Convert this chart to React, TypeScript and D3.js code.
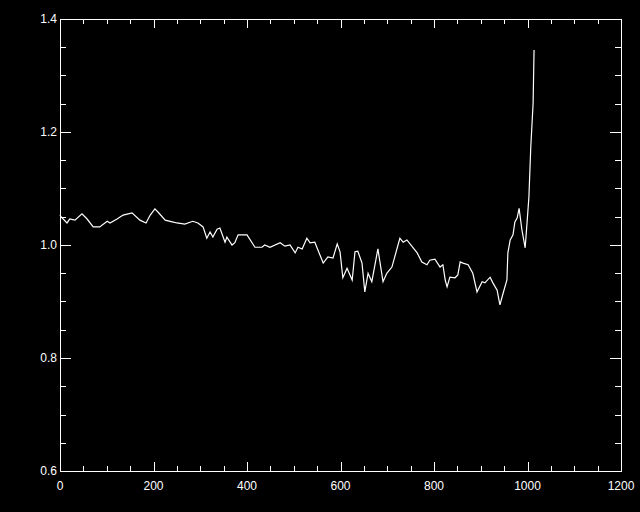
import React, { useEffect, useRef } from "react";
import * as d3 from "d3";

// values
const xValues = [
  0, 2, 15, 21, 32, 47, 58, 71, 85, 101, 107, 122, 135, 154, 171, 184, 193, 203,
  210, 225, 240, 250, 267, 284, 295, 306, 314, 321, 327, 336, 342, 353, 357, 368, 374, 381, 400, 417,
  432, 438, 449, 471, 481, 492, 503, 509, 518, 528, 535, 545, 563, 573, 584, 593, 599, 605, 614, 625,
  631, 637, 646, 652, 659, 667, 680, 691, 699, 710, 727, 734, 742, 764, 774, 785, 791, 802, 813, 819,
  824, 828, 834, 845, 851, 856, 862, 873, 883, 892, 903, 909, 920, 926, 935, 941, 948, 956, 958, 963,
  969, 973, 978, 982, 988, 995, 999, 1003, 1007, 1012, 1014,
];
const yValues = [
  1.053, 1.05, 1.039, 1.046, 1.044, 1.055, 1.046, 1.032, 1.032, 1.042, 1.039, 1.046, 1.053, 1.057, 1.044, 1.039, 1.053, 1.064,
  1.058, 1.044, 1.041, 1.039, 1.037, 1.042, 1.039, 1.032, 1.012, 1.023, 1.014, 1.028, 1.03, 1.005, 1.014, 1.0, 1.004, 1.018, 1.018, 0.996,
  0.996, 1.0, 0.996, 1.004, 0.998, 1.0, 0.986, 0.996, 0.993, 1.012, 1.004, 1.005, 0.968, 0.979, 0.977, 1.002, 0.988, 0.942, 0.959, 0.938,
  0.988, 0.989, 0.968, 0.917, 0.95, 0.935, 0.993, 0.935, 0.95, 0.961, 1.012, 1.005, 1.009, 0.986, 0.97, 0.965, 0.973, 0.975, 0.961, 0.965,
  0.938, 0.926, 0.943, 0.942, 0.947, 0.97, 0.968, 0.965, 0.95, 0.917, 0.935, 0.933, 0.943, 0.933, 0.92, 0.894, 0.915, 0.938, 0.986, 1.009,
  1.018, 1.041, 1.048, 1.065, 1.027, 0.995, 1.039, 1.085, 1.173, 1.251, 1.345,
];

const xTicks = [0, 200, 400, 600, 800, 1000, 1200];
const yTicks = [0.6, 0.8, 1.0, 1.2, 1.4];

const W = 640;
const H = 512;
const left = 60, right = 621, top = 19, bottom = 471;

function App() {
  const lineRef = useRef<SVGGElement>(null);

  const x = d3.scaleLinear().domain([0, 1200]).range([left, right]);
  const y = d3.scaleLinear().domain([0.6, 1.4]).range([bottom, top]);

  // tick marks on all four sides, like IDL's default box
  const xMinor = d3.range(0, 1201, 50);
  const yMinor = d3.range(0, 17).map(i => 0.6 + i * 0.05);

  useEffect(() => {
    const g = d3.select(lineRef.current);
    g.selectAll("*").remove();

    const pts = xValues.map((v, i) => [v, yValues[i]] as [number, number]);
    const line = d3.line<[number, number]>()
      .x(d => x(d[0]))
      .y(d => y(d[1]));

    g.append("path")
      .datum(pts)
      .attr("fill", "none")
      .attr("stroke", "#fff")
      .attr("stroke-width", 1.2)
      .attr("d", line);
  }, []);

  return (
    <div style={{ position: "absolute", left: 0, top: 0, width: W, height: H, background: "#000" }}>
      <svg width={W} height={H} style={{ display: "block" }}>
        <rect width={W} height={H} fill="#000" />
        <g stroke="#fff" strokeWidth={1} shapeRendering="crispEdges">
          {xMinor.map(v => {
            const len = v % 200 === 0 ? 9 : 5;
            const px = Math.round(x(v)) + 0.5;
            return (
              <g key={"x" + v}>
                <line x1={px} x2={px} y1={bottom} y2={bottom - len} />
                <line x1={px} x2={px} y1={top} y2={top + len} />
              </g>
            );
          })}
          {yMinor.map((v, i) => {
            const len = i % 4 === 0 ? 11 : 6;
            const py = Math.round(y(v)) + 0.5;
            return (
              <g key={"y" + i}>
                <line x1={left} x2={left + len} y1={py} y2={py} />
                <line x1={right} x2={right - len} y1={py} y2={py} />
              </g>
            );
          })}
        </g>
        <rect x={left + 0.5} y={top + 0.5} width={right - left} height={bottom - top}
          fill="none" stroke="#fff" shapeRendering="crispEdges" />
        <g fill="#fff" style={{ fontFamily: "'Liberation Sans', Arial, sans-serif", fontSize: 12 }}>
          {xTicks.map(d => (
            <text key={d} x={x(d)} y={bottom + 19} textAnchor="middle">{d}</text>
          ))}
          {yTicks.map(d => (
            <text key={d} x={left - 3} y={y(d) + 4} textAnchor="end">{d.toFixed(1)}</text>
          ))}
        </g>
        <g ref={lineRef} />
      </svg>
    </div>
  );
}

export default App;
